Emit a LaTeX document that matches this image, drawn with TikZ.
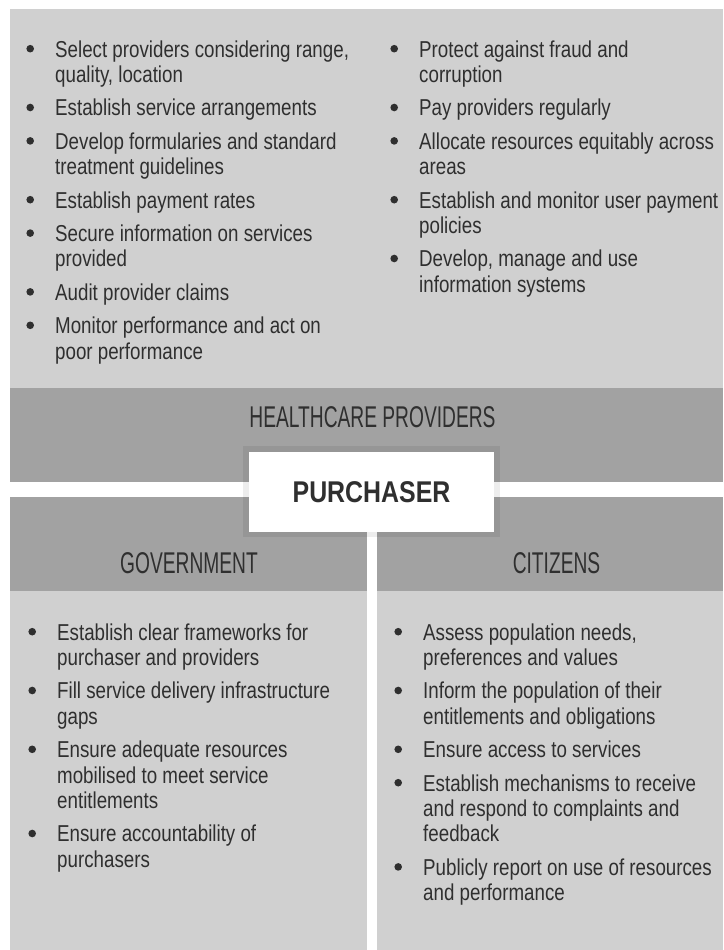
\documentclass[tikz,border=0pt]{standalone}
\usepackage{fontspec}
\setmainfont{Liberation Sans}
% condensed faces made from Liberation Sans
\newfontfamily\bodyfont[FakeStretch=0.815]{Liberation Sans}
\newfontfamily\headfont[FakeStretch=0.64]{Liberation Sans}
\newfontfamily\purchfont[FakeStretch=0.83]{Liberation Sans}

\definecolor{panel}{HTML}{D0D0D0}
\definecolor{band}{HTML}{A2A2A2}
\definecolor{ink}{HTML}{2F2F2F}

% bullet disc and one list entry with a hanging indent
\newcommand\bulletdisc{\tikz[baseline=0pt]\fill[ink] (0pt,8.3pt) circle (3.8pt);}
\newcommand\entry[1]{\hangindent=25pt\hangafter=1\noindent
  \makebox[25pt][l]{\kern-3.8pt\bulletdisc}#1\par}
\newcommand\listsetup{\bodyfont\fontsize{23}{25.4}\selectfont
  \parskip=8pt\relax}

\tikzset{
  listcol/.style={anchor=base west, inner sep=0pt, text=ink},
  bandtitle/.style={inner sep=0pt, text=ink,
    font=\headfont\fontsize{30}{30}\selectfont},
  purchframe/.style={fill=black, fill opacity=0.07, minimum width=257pt,
    minimum height=91pt, inner sep=0pt},
  purchbox/.style={fill=white, minimum width=245pt, minimum height=80pt,
    inner sep=0pt, text=ink,
    font=\purchfont\bfseries\fontsize{30}{30}\selectfont},
}

\begin{document}
\begin{tikzpicture}[x=1pt,y=-1pt]
\useasboundingbox (0,0) rectangle (723,950);
\fill[white] (0,0) rectangle (723,950);

% panels
\fill[panel] (10,9) rectangle (723,388);
\fill[band] (10,388) rectangle (723,482);
\fill[band] (10,497) rectangle (367,591);
\fill[panel] (10,591) rectangle (367,950);
\fill[band] (377,497) rectangle (723,591);
\fill[panel] (377,591) rectangle (723,950);

% purchaser tasks towards providers
\node[listcol] (provleft) at (30,57) {\parbox[t]{330pt}{\listsetup
  \entry{Select providers considering range,\newline quality, location}
  \entry{Establish service arrangements}
  \entry{Develop formularies and standard\newline treatment guidelines}
  \entry{Establish payment rates}
  \entry{Secure information on services\newline provided}
  \entry{Audit provider claims}
  \entry{Monitor performance and act on\newline poor performance}}};

\node[listcol] (provright) at (394,57) {\parbox[t]{340pt}{\listsetup
  \entry{Protect against fraud and\newline corruption}
  \entry{Pay providers regularly}
  \entry{Allocate resources equitably across\newline areas}
  \entry{Establish and monitor user payment\newline policies}
  \entry{Develop, manage and use\newline information systems}}};

% band titles
\node[bandtitle] (providers) at (372.5,417) {HEALTHCARE PROVIDERS};
\node[bandtitle] (government) at (189,563.5) {GOVERNMENT};
\node[bandtitle] (citizens) at (556.5,563.5) {CITIZENS};

% central purchaser box
\node[purchframe] (frame) at (371.5,491.5) {};
\node[purchbox] (purchaser) at (371.5,492) {PURCHASER};

% government and citizens tasks
\node[listcol] (govlist) at (32,640) {\parbox[t]{330pt}{\listsetup
  \entry{Establish clear frameworks for\newline purchaser and providers}
  \entry{Fill service delivery infrastructure\newline gaps}
  \entry{Ensure adequate resources\newline mobilised to meet service\newline entitlements}
  \entry{Ensure accountability of\newline purchasers}}};

\node[listcol] (citlist) at (398,640) {\parbox[t]{330pt}{\listsetup
  \entry{Assess population needs,\newline preferences and values}
  \entry{Inform the population of their\newline entitlements and obligations}
  \entry{Ensure access to services}
  \entry{Establish mechanisms to receive\newline and respond to complaints and\newline feedback}
  \entry{Publicly report on use of resources\newline and performance}}};
\end{tikzpicture}
\end{document}
